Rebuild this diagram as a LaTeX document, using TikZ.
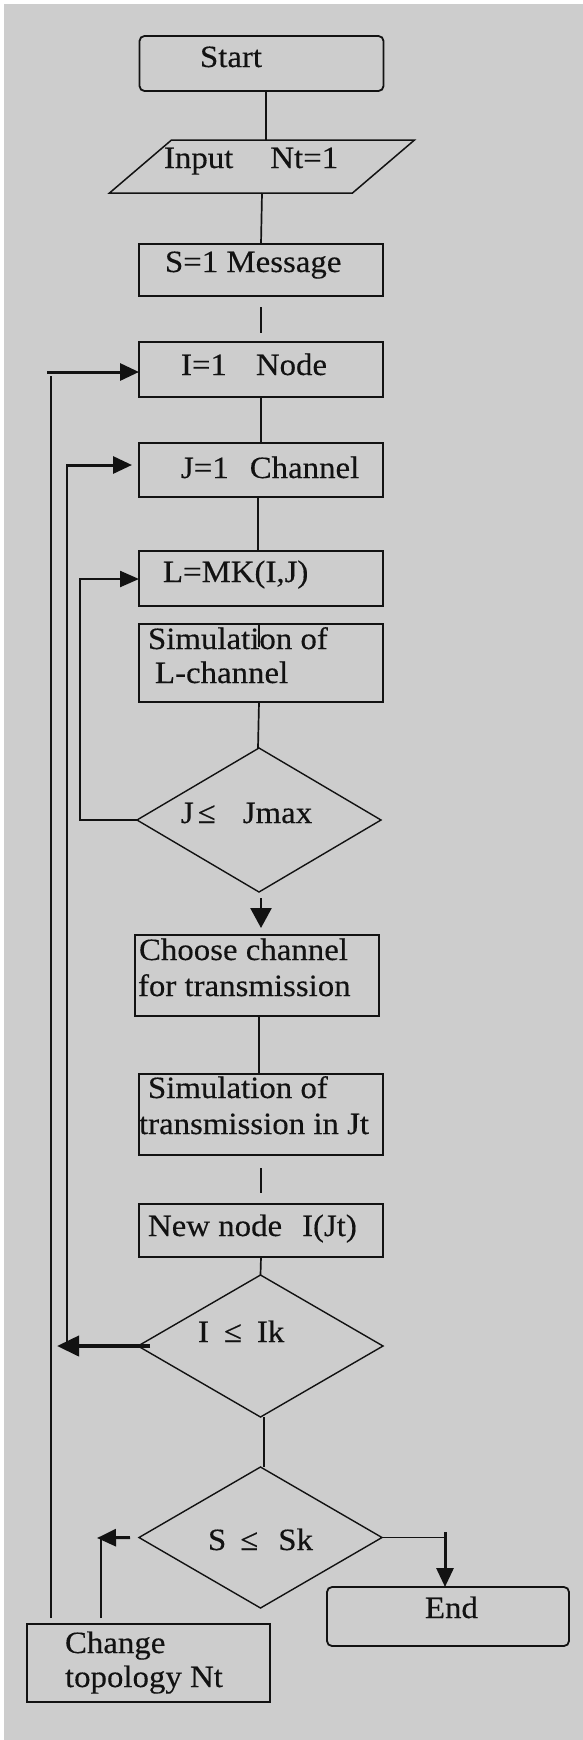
\documentclass[tikz,border=0pt]{standalone}
\usepackage{fontspec}
\setmainfont{Liberation Serif}[FakeStretch=1.06,FakeBold=0.3]
\usetikzlibrary{shapes.geometric,arrows.meta}

\definecolor{panel}{RGB}{205,205,205}
\definecolor{ink}{RGB}{18,18,18}

\begin{document}
\begin{tikzpicture}[x=1pt,y=-1pt,
  every node/.style={inner sep=0pt, outer sep=0pt},
  box/.style={rectangle, draw=ink, line width=1.8pt, minimum width=244pt},
  term/.style={box, rounded corners=5pt},
  test/.style={diamond, draw=ink, line width=1.4pt},
  lbl/.style={anchor=base west, font=\fontsize{31pt}{36pt}\selectfont, text=ink},
  flow/.style={draw=ink, line width=1.7pt},
  arr/.style={draw=ink, line width=3pt, -{Triangle[length=19pt,width=17pt]}},
  bigarr/.style={draw=ink, line width=4pt, -{Triangle[length=22pt,width=20pt]}},
]
\useasboundingbox (0,0) rectangle (583,1740);
\fill[white] (0,0) rectangle (583,1740);
\fill[panel] (4,4) rectangle (583,1740);

% blocks of the flow chart
\node[term, minimum height=55pt] (start) at (261.5,63.5) {};
\node[rectangle, minimum width=243pt, minimum height=53pt] (input) at (262,166.5) {};
\draw[draw=ink, line width=1.5pt]
  ([xshift=31pt]input.north west) -- ([xshift=31pt]input.north east)
  -- ([xshift=-31pt]input.south east) -- ([xshift=-31pt]input.south west) -- cycle;
\node[box, minimum height=52pt] (msg) at (261,270) {};
\node[box, minimum height=55pt] (inode) at (261,369.5) {};
\node[box, minimum height=54pt] (jnode) at (261,470) {};
\node[box, minimum height=55pt] (lmk) at (261,578.5) {};
\node[box, minimum height=78pt] (siml) at (261,663) {};
\node[test, minimum width=244pt, minimum height=144pt] (djmax) at (259,820) {};
\node[box, minimum height=81pt] (choose) at (257,975.5) {};
\node[box, minimum height=81pt] (simt) at (261,1114.5) {};
\node[box, minimum height=53pt] (newnode) at (261,1230.5) {};
\node[test, minimum width=245pt, minimum height=142pt] (dik) at (260.5,1346) {};
\node[test, minimum width=243pt, minimum height=141pt] (dsk) at (260.5,1537.5) {};
\node[term, minimum width=242pt, minimum height=59pt] (endbox) at (448,1616.5) {};
\node[box, minimum width=243pt, minimum height=78pt] (change) at (148.5,1663) {};

% texts
\node[lbl] (tStart) at (200,67) {Start};
\node[lbl] (tInput) at (164,168) {Input\hspace{37pt}Nt=1};
\node[lbl] (tMsg) at (165,272) {S=1 Message};
\node[lbl] (tNode) at (181,375) {I=1\hspace{29pt}Node};
\node[lbl] (tChan) at (181,478) {J=1\hspace{21pt}Channel};
\node[lbl] (tLmk) at (163,582) {L=MK(I,J)};
\node[lbl] (tSimLa) at (148,649) {Simulation of};
\node[lbl] (tSimLb) at (155,683) {L-channel};
\node[lbl] (tJmax) at (181,823) {J\hspace{4pt}≤\hspace{27pt}Jmax};
\node[lbl] (tChoA) at (139,960) {Choose channel};
\node[lbl] (tChoB) at (138,996) {for transmission};
\node[lbl] (tSimTa) at (148,1098) {Simulation of};
\node[lbl] (tSimTb) at (139,1134) {transmission in Jt};
\node[lbl] (tNew) at (148,1236) {New node\hspace{20pt}I(Jt)};
\node[lbl] (tIk) at (198,1342) {I\hspace{15pt}≤\hspace{15pt}Ik};
\node[lbl] (tSk) at (208,1550) {S\hspace{14pt}≤\hspace{20pt}Sk};
\node[lbl] (tEnd) at (425,1618) {End};
\node[lbl] (tChA) at (65,1653) {Change};
\node[lbl] (tChB) at (65,1687) {topology Nt};

% turning points of the connectors
\coordinate (sdrop) at ([xshift=4.5pt]start.south);
\coordinate (oturn) at (51,372);
\coordinate (ctop) at ([yshift=6pt]change.north);
\coordinate (jturn) at (67,465);
\coordinate (jend) at (132,465);
\coordinate (jtip) at (57,1346);
\coordinate (lturn) at (80,579);
\coordinate (cturn) at (101,1538);
\coordinate (ctip) at (97,1538);
\coordinate (eturn) at (445,1532);
\coordinate (cdrop) at ([xshift=2pt]choose.south);

% main column
\draw[flow] (sdrop) -- (sdrop |- input.north);
\draw[flow] (input.south) -- (msg.north);
\draw[flow] ([yshift=-11pt]msg.south) -- ([yshift=9pt]inode.north);
\draw[flow] (inode.south) -- (jnode.north);
\draw[flow] ([xshift=-3pt]jnode.south) -- ([xshift=-3pt]lmk.north);
\draw[flow] ([xshift=-2pt]siml.north) -- ++(0,23);
\draw[flow] ([xshift=-2pt]siml.south) -- ([xshift=-1pt]djmax.north);
\draw[draw=ink, line width=2.6pt, -{Triangle[length=20pt,width=21pt]}]
  ([yshift=-6pt,xshift=2pt]djmax.south) -- ([yshift=7pt,xshift=4pt]choose.north);
\draw[flow] (cdrop) -- (cdrop |- simt.north);
\draw[flow] ([yshift=-13pt]simt.south) -- ([yshift=11pt]newnode.north);
\draw[flow] (newnode.south) -- (dik.north);
\draw[flow] ([xshift=3.5pt]dik.south) -- ([xshift=3.5pt]dsk.north);

% exit to the end block
\draw[flow] (dsk.east) -- (dsk.east -| eturn);
\draw[arr] (eturn) -- (eturn |- endbox.north);

% change of topology and the outer loop
\draw[arr] ([xshift=-9pt]dsk.west) -- (ctip);
\draw[flow] (ctop -| cturn) -- (cturn);
\draw[flow] (ctop -| oturn) -- ([yshift=-4pt]oturn);
\draw[arr] ([xshift=-4pt]oturn) -- (oturn -| inode.west);

% loop back over the nodes
\draw[bigarr] ([xshift=12pt]dik.west) -- (jtip);
\draw[flow] (jtip -| jturn) -- (jturn);
\draw[arr] ([xshift=-1pt]jturn) -- (jend);

% loop back over the channels
\draw[flow] (djmax.west) -- (djmax.west -| lturn) -- (lturn);
\draw[draw=ink, line width=2.4pt, -{Triangle[length=19pt,width=16pt]}]
  ([xshift=-1pt]lturn) -- (lturn -| lmk.west);
\end{tikzpicture}
\end{document}
